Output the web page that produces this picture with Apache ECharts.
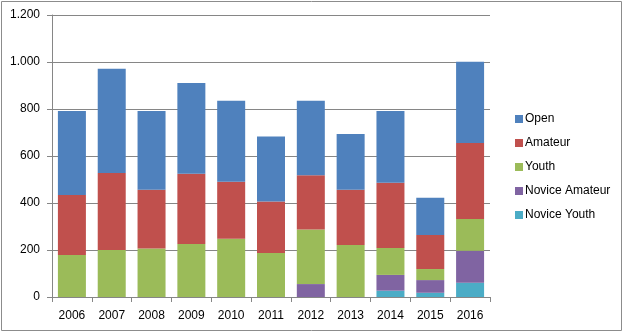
<!DOCTYPE html>
<html><head><meta charset="utf-8">
<script src="https://cdn.jsdelivr.net/npm/echarts@6/dist/echarts.min.js"></script>
<style>html,body{margin:0;padding:0;background:#fff}#c{width:624px;height:333px}</style>
</head><body><div id="c"></div>
<script>
const categories = ['2006','2007','2008','2009','2010','2011','2012','2013','2014','2015','2016'];
const noviceYouth   = [0,0,0,0,0,0,0,0,27,18,61];
const noviceAmateur = [0,0,0,0,0,0,55,0,67,54,136];
const youth         = [179,200,206,226,248,187,232,221,115,47,135];
const amateur       = [255,328,250,299,242,219,231,235,277,145,323];
const open          = [358,443,336,386,345,277,317,238,306,158,346];
const yTicks = [0,200,400,600,800,1000,1200];

const chart = echarts.init(document.getElementById('c'), null, {renderer:'canvas'});
const font = 'Liberation Sans, Arial, sans-serif';
function mk(name, data, color){
  return {name, type:'bar', stack:'t', data, barWidth:28, itemStyle:{color}, emphasis:{disabled:true}};
}
chart.setOption({
  animation:false,
  graphic:[{type:'rect', shape:{x:1.5,y:1.5,width:620,height:329}, style:{fill:'none', stroke:'#8c8c8c', lineWidth:1}}],
  grid:{left:52, right:134, top:15, bottom:36, containLabel:false},
  legend:{
    orient:'vertical', left:510, top:108, itemGap:12, itemWidth:8, itemHeight:8,
    icon:'rect', data:['Open','Amateur','Youth','Novice Amateur','Novice Youth'],
    textStyle:{fontFamily:font, fontSize:12, color:'#000', padding:[0,0,0,-3]}
  },
  xAxis:{
    type:'category', data:categories,
    axisLine:{lineStyle:{color:'#868686'}},
    axisTick:{show:true, length:5, lineStyle:{color:'#868686'}},
    axisLabel:{fontFamily:font, fontSize:12, color:'#000', margin:13}
  },
  yAxis:{
    type:'value', min:yTicks[0], max:yTicks[yTicks.length-1], interval:200,
    axisLine:{show:true, lineStyle:{color:'#868686'}},
    axisTick:{show:true, length:5, lineStyle:{color:'#868686'}},
    splitLine:{lineStyle:{color:'#868686'}},
    axisLabel:{fontFamily:font, fontSize:12, color:'#000', margin:12,
      formatter:v=>String(v).replace(/\B(?=(\d{3})+(?!\d))/g,'.')}
  },
  series:[
    mk('Novice Youth', noviceYouth, '#4BACC6'),
    mk('Novice Amateur', noviceAmateur, '#8064A2'),
    mk('Youth', youth, '#9BBB59'),
    mk('Amateur', amateur, '#C0504D'),
    mk('Open', open, '#4F81BD')
  ]
});
</script></body></html>
